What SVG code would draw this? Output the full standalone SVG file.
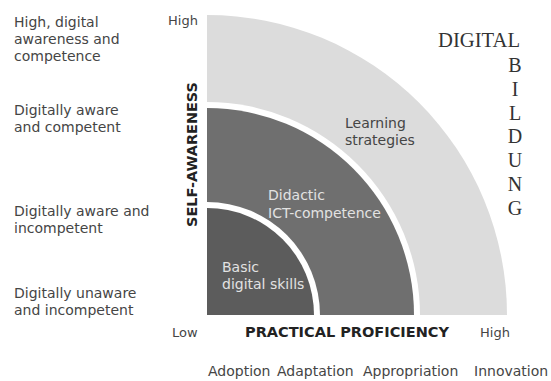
<svg xmlns="http://www.w3.org/2000/svg" width="551" height="381" viewBox="0 0 551 381">
<style>
.lbl{font-family:"DejaVu Sans",Verdana,sans-serif;font-size:14px;fill:#454545}
.ax{font-family:"DejaVu Sans",Verdana,sans-serif;font-size:13px;fill:#454545}
.bold{font-family:"DejaVu Sans",Verdana,sans-serif;font-size:14px;font-weight:bold;fill:#222}
.in{font-family:"DejaVu Sans",Verdana,sans-serif;font-size:14px;fill:#e2e2e2}
.ser{font-family:"Liberation Serif","Times New Roman",serif;font-size:20px;fill:#333}
</style>
<rect width="551" height="381" fill="#fff"/>
<g id="learning-strategies">
<path d="M207 315 L207 15 A300 300 0 0 1 507 315 Z" fill="#dcdcdc"/>
<path d="M207 315 L207 102 A213 213 0 0 1 420 315 Z" fill="#fff"/>
<text class="lbl" x="345" y="128" fill="#555">Learning</text>
<text class="lbl" x="345" y="145">strategies</text>
</g>
<g id="didactic-ict">
<path d="M207 315 L207 108 A207 207 0 0 1 414 315 Z" fill="#6f6f6f"/>
<path d="M207 315 L207 202 A113 113 0 0 1 320 315 Z" fill="#fff"/>
<text class="in" x="268" y="200">Didactic</text>
<text class="in" x="268" y="218">ICT-competence</text>
</g>
<g id="basic-skills">
<path d="M207 315 L207 208 A107 107 0 0 1 314 315 Z" fill="#5c5c5c"/>
<text class="in" x="222" y="272">Basic</text>
<text class="in" x="222" y="289">digital skills</text>
</g>
<g id="levels">
<text class="lbl" x="14" y="27">High, digital</text>
<text class="lbl" x="14" y="44">awareness and</text>
<text class="lbl" x="14" y="61">competence</text>
<text class="lbl" x="14" y="115">Digitally aware</text>
<text class="lbl" x="14" y="132">and competent</text>
<text class="lbl" x="14" y="216">Digitally aware and</text>
<text class="lbl" x="14" y="233">incompetent</text>
<text class="lbl" x="14" y="298">Digitally unaware</text>
<text class="lbl" x="14" y="315">and incompetent</text>
</g>
<g id="axes">
<text class="ax" x="168" y="25">High</text>
<text class="bold" transform="translate(197 227) rotate(-90)" textLength="145" lengthAdjust="spacingAndGlyphs">SELF-AWARENESS</text>
<text class="ax" x="172" y="337">Low</text>
<text class="bold" x="245" y="337" textLength="204" lengthAdjust="spacingAndGlyphs">PRACTICAL PROFICIENCY</text>
<text class="ax" x="480" y="337">High</text>
</g>
<g id="stages">
<text class="lbl" x="208" y="376">Adoption</text>
<text class="lbl" x="277" y="376">Adaptation</text>
<text class="lbl" x="363" y="376">Appropriation</text>
<text class="lbl" x="474" y="376">Innovation</text>
</g>
<g id="digital-bildung">
<text class="ser" x="438" y="47" textLength="82" lengthAdjust="spacingAndGlyphs">DIGITAL</text>
<g text-anchor="middle">
<text class="ser" x="515" y="72">B</text>
<text class="ser" x="515" y="96">I</text>
<text class="ser" x="515" y="120">L</text>
<text class="ser" x="515" y="143">D</text>
<text class="ser" x="515" y="167">U</text>
<text class="ser" x="515" y="191">N</text>
<text class="ser" x="515" y="215">G</text>
</g>
</g>
</svg>
